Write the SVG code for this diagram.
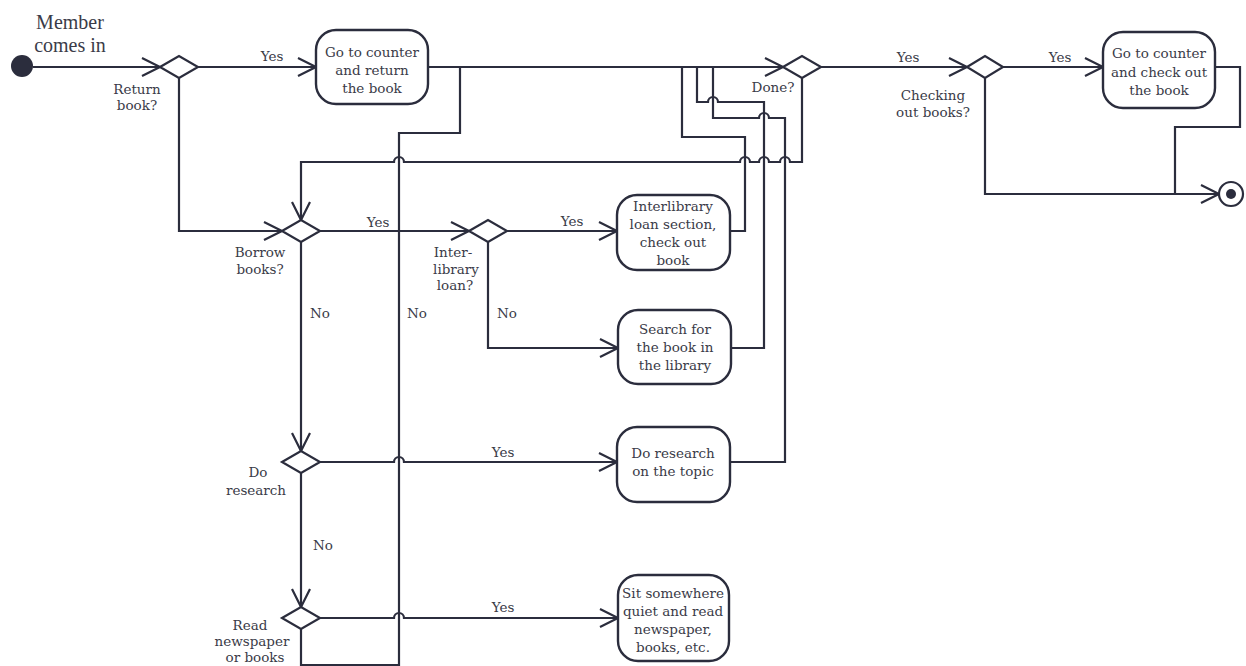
<svg xmlns="http://www.w3.org/2000/svg" width="1246" height="666" viewBox="0 0 1246 666">
<defs>
<marker id="arr" markerUnits="userSpaceOnUse" markerWidth="24" markerHeight="20" refX="20" refY="10" orient="auto" overflow="visible">
<path d="M2,1 L20,10 L2,19" fill="none" stroke="#2b2d3d" stroke-width="2.2"/>
</marker>
<style>
.ln{fill:none;stroke:#2b2d3d;stroke-width:2.2;stroke-linejoin:miter}
.ar{marker-end:url(#arr)}
.box{fill:#fff;stroke:#2b2d3d;stroke-width:2.4}
.dia{fill:#fff;stroke:#2b2d3d;stroke-width:2.2}
.t{font-family:"DejaVu Serif","Liberation Serif",serif;font-size:13.5px;fill:#3a3b48;text-anchor:middle}
.big{font-family:"Liberation Serif",serif;font-size:20px;fill:#3a3b48}
</style>
</defs>
<rect width="1246" height="666" fill="#fff"/>
<g id="connectors">
<path class="ln ar" d="M33,67 H160"/>
<path class="ln ar" d="M198,67 H316"/>
<path class="ln ar" d="M428,67 H783"/>
<path class="ln" d="M460,67 V133 H399 V666"/>
<path class="ln ar" d="M179,78 V231 H282"/>
<path class="ln ar" d="M320,231 H469"/>
<path class="ln ar" d="M507,231 H617"/>
<path class="ln ar" d="M488,242 V348 H618"/>
<path class="ln ar" d="M802,78 V162 H790 A5,5 0 0 0 780,162 H769 A5,5 0 0 0 759,162 H750 A5,5 0 0 0 740,162 H404 A5,5 0 0 0 394,162 H301 V220"/>
<path class="ln ar" d="M301,242 V451"/>
<path class="ln ar" d="M320,462 H394 A5,5 0 0 1 404,462 H617"/>
<path class="ln ar" d="M301,473 V607"/>
<path class="ln ar" d="M320,618 H394 A5,5 0 0 1 404,618 H618"/>
<path class="ln" d="M301,629 V666"/>
<path class="ln" d="M301,665 H399"/>
<path class="ln" d="M730,231 H745 V137 H682 V67"/>
<path class="ln" d="M731,348 H764 V102 H718 A5,5 0 0 0 708,102 H697 V67"/>
<path class="ln" d="M730,462 H785 V118 H769 A5,5 0 0 0 759,118 H713 V67"/>
<path class="ln ar" d="M821,67 H967"/>
<path class="ln ar" d="M1003,67 H1103"/>
<path class="ln" d="M1215,67 H1240 V127 H1175 V194"/>
<path class="ln ar" d="M985,78 V194 H1219"/>
</g>
<g id="start">
<circle cx="22" cy="66" r="11" fill="#2b2d3d"/>
<text class="big" x="70" y="29" text-anchor="middle">Member</text>
<text class="big" x="70" y="52" text-anchor="middle">comes in</text>
</g>
<g id="d_return">
<polygon class="dia" points="160,67 179,56 198,67 179,78"/>
<text class="t" x="137" y="94">Return</text>
<text class="t" x="137" y="110">book?</text>
<text class="t" x="272" y="61">Yes</text>
</g>
<g id="b_return">
<rect class="box" x="316" y="30" width="112" height="74" rx="20"/>
<text class="t" x="372" y="57">Go to counter</text>
<text class="t" x="372" y="75">and return</text>
<text class="t" x="372" y="93">the book</text>
</g>
<g id="d_done">
<polygon class="dia" points="783,67 802,56 821,67 802,78"/>
<text class="t" x="773" y="92">Done?</text>
<text class="t" x="908" y="62">Yes</text>
</g>
<g id="d_check">
<polygon class="dia" points="967,67 985,56 1003,67 985,78"/>
<text class="t" x="933" y="100">Checking</text>
<text class="t" x="933" y="117">out books?</text>
<text class="t" x="1060" y="62">Yes</text>
</g>
<g id="b_check">
<rect class="box" x="1103" y="32" width="112" height="76" rx="20"/>
<text class="t" x="1159" y="58">Go to counter</text>
<text class="t" x="1159" y="77">and check out</text>
<text class="t" x="1159" y="95">the book</text>
</g>
<g id="end">
<circle cx="1231" cy="194" r="12" fill="#fff" stroke="#2b2d3d" stroke-width="2.2"/>
<circle cx="1231" cy="194" r="5" fill="#2b2d3d"/>
</g>
<g id="d_borrow">
<polygon class="dia" points="282,231 301,220 320,231 301,242"/>
<text class="t" x="260" y="257">Borrow</text>
<text class="t" x="260" y="274">books?</text>
<text class="t" x="378" y="227">Yes</text>
<text class="t" x="320" y="318">No</text>
<text class="t" x="417" y="318">No</text>
</g>
<g id="d_inter">
<polygon class="dia" points="469,231 488,220 507,231 488,242"/>
<text class="t" x="453" y="257">Inter-</text>
<text class="t" x="456" y="274">library</text>
<text class="t" x="455" y="290">loan?</text>
<text class="t" x="572" y="226">Yes</text>
<text class="t" x="507" y="318">No</text>
</g>
<g id="b_inter">
<rect class="box" x="617" y="195" width="113" height="75" rx="20"/>
<text class="t" x="673" y="211">Interlibrary</text>
<text class="t" x="673" y="229">loan section,</text>
<text class="t" x="673" y="247">check out</text>
<text class="t" x="673" y="265">book</text>
</g>
<g id="b_search">
<rect class="box" x="618" y="310" width="113" height="74" rx="20"/>
<text class="t" x="675" y="334">Search for</text>
<text class="t" x="675" y="352">the book in</text>
<text class="t" x="675" y="370">the library</text>
</g>
<g id="d_research">
<polygon class="dia" points="282,462 301,451 320,462 301,473"/>
<text class="t" x="258" y="477">Do</text>
<text class="t" x="256" y="495">research</text>
<text class="t" x="503" y="457">Yes</text>
<text class="t" x="323" y="550">No</text>
</g>
<g id="b_research">
<rect class="box" x="617" y="427" width="113" height="75" rx="20"/>
<text class="t" x="673" y="458">Do research</text>
<text class="t" x="673" y="476">on the topic</text>
</g>
<g id="d_read">
<polygon class="dia" points="282,618 301,607 320,618 301,629"/>
<text class="t" x="250" y="630">Read</text>
<text class="t" x="252" y="646">newspaper</text>
<text class="t" x="255" y="662">or books</text>
<text class="t" x="503" y="612">Yes</text>
</g>
<g id="b_sit">
<rect class="box" x="618" y="575" width="111" height="86" rx="20"/>
<text class="t" x="673" y="598">Sit somewhere</text>
<text class="t" x="673" y="616">quiet and read</text>
<text class="t" x="673" y="634">newspaper,</text>
<text class="t" x="673" y="652">books, etc.</text>
</g>
</svg>
